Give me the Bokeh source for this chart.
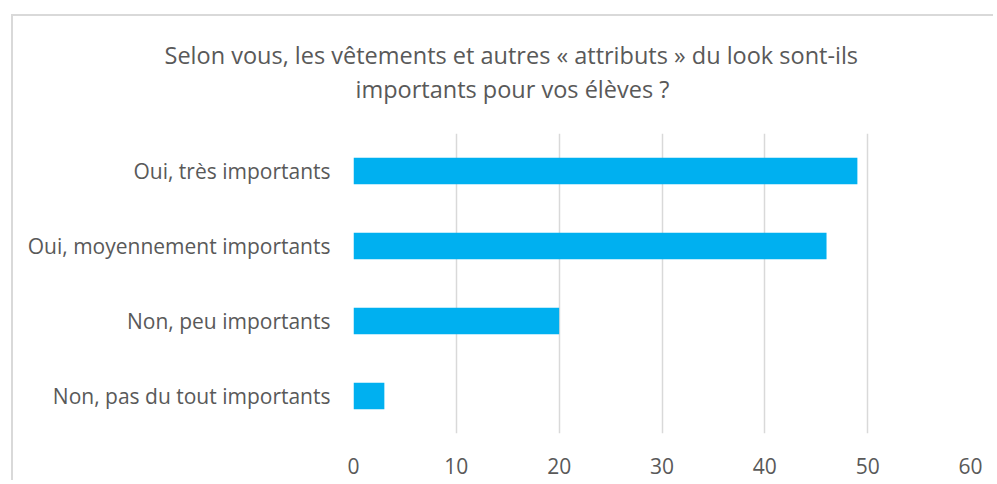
from bokeh.plotting import figure
from bokeh.models import Range1d, FixedTicker, Title
from bokeh.embed import file_html
from bokeh.resources import INLINE

categories = ["Oui, très importants", "Oui, moyennement importants",
              "Non, peu importants", "Non, pas du tout importants"]
values = [49, 46, 20, 3]
x_ticks = [0, 10, 20, 30, 40, 50, 60]
title_lines = ["Selon vous, les vêtements et autres « attributs » du look sont-ils",
               "importants pour vos élèves ?"]

FONT = "Open Sans"
TXT = "#595959"
GRID = "#D9D9D9"

p = figure(width=982, height=466, output_backend="svg", toolbar_location=None,
           y_range=list(reversed(categories)), x_range=Range1d(0, 60),
           min_border_left=340, min_border_right=25, min_border_top=117,
           min_border_bottom=49)
p.styles = {"border-left": "2px solid #D9D9D9", "border-top": "2px solid #D9D9D9",
            "margin-left": "11px", "margin-top": "14px"}

p.hbar(y=categories, right=values, left=0, height=0.355, color="#00B0F0", line_color=None)

p.outline_line_color = None
p.background_fill_color = "white"
p.border_fill_color = "white"

p.xaxis.ticker = FixedTicker(ticks=x_ticks)
p.xgrid.ticker = FixedTicker(ticks=x_ticks)
p.xgrid.grid_line_color = GRID
p.xgrid.grid_line_width = 1.5
p.ygrid.grid_line_color = None

for ax in (p.xaxis[0], p.yaxis[0]):
    ax.axis_line_color = None
    ax.major_tick_line_color = None
    ax.minor_tick_line_color = None
    ax.major_label_text_font = FONT
    ax.major_label_text_font_size = "21px"
    ax.major_label_text_color = TXT
p.xaxis.major_label_standoff = 18
p.yaxis.major_label_standoff = 17

# gap between title and plot area (invisible spacer title), nearest the frame
p.add_layout(Title(text=" ", text_font_size="10px", standoff=15), "above")
# title lines: nearest-to-frame first
offsets = [-189, 2]
for line, off in reversed(list(zip(title_lines, offsets))):
    p.add_layout(Title(text=line, align="left", offset=off, text_font=FONT,
                       text_font_size="23.5px", text_color=TXT, text_font_style="normal",
                       vertical_align="middle", standoff=0), "above")

open("out.html", "w").write(file_html(p, INLINE))
